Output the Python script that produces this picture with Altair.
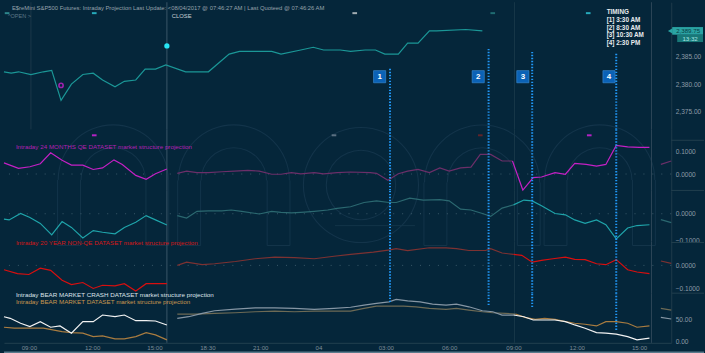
import altair as alt
import pandas as pd

BG = "#05263a"
FONT = "Liberation Sans"
W = 672
X_DOMAIN = [0, 64.3]
SPLIT = 49.0  # start of the "live" part of the projection (bar units)

# ---------------- data (x = 30-minute bar index) ----------------
price_x = [0.0, 0.7, 1.4, 2.6, 3.8, 4.6, 5.5, 6.5, 7.6, 8.6, 9.5, 10.7, 11.6, 12.7, 13.6, 14.6, 15.6,
           17.5, 19.7, 21.7, 22.7, 24.1, 25.8, 26.7, 28.6, 29.8, 30.8, 32.4, 33.4, 34.8, 35.8, 36.7,
           38.0, 38.9, 39.9, 41.0, 41.7, 44.5, 46.1]
price_v = [2382.25, 2382.0, 2382.25, 2381.75, 2382.25, 2382.5, 2377.0, 2380.0, 2381.75, 2382.0,
           2380.75, 2379.5, 2380.5, 2380.75, 2382.75, 2382.75, 2383.5, 2382.25, 2382.25, 2385.5,
           2386.0, 2386.0, 2386.0, 2385.5, 2386.25, 2386.75, 2386.25, 2386.25, 2386.0, 2386.25,
           2386.25, 2385.5, 2385.5, 2387.5, 2387.5, 2389.75, 2389.75, 2390.0, 2389.75]
last_price = [2389.75]
last_time = ["13:32"]

qe_x = [0.0, 1.4, 2.5, 3.5, 4.5, 5.6, 6.5, 7.6, 8.6, 9.5, 10.6, 11.4, 12.7, 13.7, 14.6, 15.7,
        16.7, 17.6, 18.6, 19.7, 21.0, 22.2, 23.5, 24.6, 25.8, 26.7, 27.7, 28.6, 29.9, 30.8, 32.1,
        33.4, 35.3, 35.9, 37.0, 38.0, 38.9, 39.9, 41.0, 42.0, 42.9, 44.0, 45.0, 45.9, 46.9, 48.0,
        49.0, 50.0, 51.0, 51.8, 53.1, 54.1, 55.0, 56.1, 57.1, 58.0, 59.0, 60.1, 61.2, 62.2, 63.3, 64.3]
qe_v = [0.049, 0.025, 0.032, 0.045, 0.093, 0.060, 0.039, 0.039, 0.020, 0.027, 0.062, 0.042, -0.006,
        -0.023, 0.001, 0.022,
        0.003, 0.013, 0.006, 0.006, 0.010, 0.013, 0.016, 0.013, -0.001, -0.001, 0.006, 0.001, 0.006,
        0.001, 0.006, 0.009, 0.006, 0.003, -0.027, 0.001, 0.013, 0.020, 0.006, 0.027, 0.013, 0.027,
        0.030, 0.086, 0.086, 0.057, 0.057, -0.070, -0.016, -0.013, 0.006, -0.001, 0.047, 0.042,
        0.035, 0.042, 0.125, 0.119, 0.117, 0.117, 0.042, 0.057]

teal_x = [0.0, 0.5, 1.6, 2.5, 3.5, 4.6, 5.6, 6.5, 7.6, 8.6, 9.5, 10.7, 11.6, 12.7, 13.7, 14.6, 15.7,
          16.7, 17.6, 18.6, 19.7, 21.0, 21.9, 22.9, 24.6, 25.8, 26.7, 27.7, 28.6, 29.9, 31.2, 32.1,
          33.4, 34.7, 35.9, 37.1, 37.8, 39.1, 40.4, 42.0, 42.9, 44.0, 45.0, 46.1, 46.9, 48.0, 49.1,
          50.1, 50.9, 51.8, 53.1, 54.1, 55.0, 56.0, 57.1, 58.0, 59.0, 60.1, 61.0, 62.2, 63.3, 64.3]
teal_v = [-0.020, -0.023, 0.001, -0.014, -0.036, -0.079, -0.029, -0.051, -0.090, -0.063, -0.069,
          -0.075, -0.051, -0.032, -0.007, -0.023, -0.042,
          -0.007, -0.016, 0.009, 0.011, 0.011, 0.014, 0.009, -0.001, 0.009, 0.005, 0.003, 0.005,
          0.009, 0.014, 0.020, 0.026, 0.042, 0.048, 0.042, 0.042, 0.058, 0.051, 0.053, 0.048, 0.017,
          0.014, 0.001, -0.010, 0.021, 0.033, 0.051, 0.048, 0.030, 0.001, -0.004, -0.023, -0.036,
          -0.023, -0.041, -0.094, -0.053, -0.044, -0.041, -0.022, -0.033]

red_x = [0.0, 1.3, 2.4, 3.5, 4.5, 5.6, 6.5, 7.6, 8.6, 9.5, 10.7, 11.6, 12.7, 13.7, 14.6, 15.7,
         16.7, 17.6, 19.1, 20.3, 22.3, 24.2, 26.1, 28.0, 29.9, 31.8, 33.4, 35.6, 37.2, 37.8, 38.9,
         41.0, 42.6, 43.6, 44.8, 46.4, 46.9, 48.0, 49.1, 49.9, 50.9, 51.8, 52.9, 54.1, 55.0, 56.0,
         57.1, 58.0, 59.0, 60.1, 61.0, 62.2, 63.3, 64.3]
red_v = [-0.019, -0.036, -0.040, -0.012, -0.022, -0.065, -0.084, -0.075, -0.101, -0.087, -0.090,
         -0.080, -0.112, -0.080, -0.080, -0.080,
         0.000, 0.014, 0.003, 0.007, 0.017, 0.029, 0.036, 0.034, 0.029, 0.040, 0.048, 0.058, 0.068,
         0.073, 0.065, 0.077, 0.077, 0.073, 0.065, 0.065, 0.073, 0.054, 0.048, 0.044, 0.014, 0.022,
         0.029, 0.036, 0.026, 0.025, 0.007, 0.003, 0.025, -0.019, -0.029, -0.036, 0.019, 0.009]

crash_x = [0.0, 0.6, 1.6, 2.5, 3.5, 4.5, 5.4, 6.5, 7.6, 8.6, 9.5, 10.7, 11.6, 12.7, 13.7, 14.6, 15.7,
           16.7, 17.8, 19.1, 20.3, 22.3, 24.2, 26.1, 28.0, 29.9, 31.8, 33.4, 34.7, 35.9, 37.1, 37.8,
           38.9, 40.1, 41.3, 42.6, 43.6, 44.8, 46.1, 47.1, 48.0, 49.1, 50.1, 51.0, 52.1, 53.1, 54.1,
           55.0, 56.0, 57.1, 58.0, 59.0, 60.1, 61.0, 62.2, 63.3, 64.3]
crash_v = [57.6, 53.9, 42.4, 34.6, 46.1, 33.2, 36.2, 19.4, 46.1, 46.1, 61.5, 57.6, 61.5, 48.4, 48.4,
           47.7, 38.5,
           53.9, 57.6, 65.4, 71.4, 75.3, 78.3, 78.3, 77.0, 74.7, 77.0, 79.5, 84.6, 88.5, 92.2, 97.7,
           94.5, 92.2, 86.9, 84.6, 86.9, 80.6, 71.4, 69.1, 61.5, 61.5, 57.6, 50.0, 50.0, 50.0, 46.1,
           38.5, 30.9, 20.7, 19.4, 17.0, 11.5, 3.9, 7.8, 56.2, 52.3]

bear_x = [0.0, 1.0, 1.9, 3.8, 5.6, 6.5, 7.6, 8.6, 9.5, 10.7, 11.6, 12.7, 13.7, 14.6, 15.7,
          16.7, 18.4, 20.3, 22.3, 24.2, 26.1, 28.0, 29.9, 31.8, 33.4, 34.7, 35.9, 37.1, 38.5, 39.7,
          41.0, 42.6, 43.6, 44.8, 46.1, 47.1, 48.3, 49.3, 50.2, 51.2, 52.1, 53.1, 54.1, 55.0, 56.0,
          57.1, 58.0, 59.0, 60.1, 61.0, 62.2, 63.3, 64.3]
bear_v = [33.2, 30.9, 30.9, 30.9, 23.0, 20.7, 19.4, 11.5, 13.1, 6.2, 6.2, 11.5, 20.7, 15.4, 3.9,
          63.8, 63.8, 65.4, 66.8, 69.1, 70.7, 69.1, 70.7, 70.7, 70.7, 77.0, 82.3, 82.3, 82.3, 80.6,
          77.0, 74.7, 77.0, 73.0, 69.1, 66.8, 65.4, 63.8, 56.2, 51.6, 53.9, 51.6, 46.1, 42.4, 40.1,
          36.2, 46.1, 46.1, 42.4, 33.2, 36.2, 77.0, 73.0]

# event markers
hi_dot_x, hi_dot_price = [15.7], [2387.0]
lo_ring_x, lo_ring_price = [5.5], [2379.75]
top_marks_x = [0.3, 8.7, 33.8, 47.1, 56.3]
top_marks_c = ["#3fb0b0", "#35e3f2", "#e6e6e6", "#2a8a8a", "#35e3f2"]
qe_marks_x = [8.7, 31.8, 45.9, 56.4]
qe_marks_c = ["#ff22ff", "#8090a0", "#8a2222", "#ff22ff"]

# timing events
timing_x = [37.2, 46.7, 50.9, 59.0]
timing_top = [2382.8, 2386.45, 2385.9, 2385.55]
timing_end = [91.5, 84.6, 79.9, 26.9]
box_x = [36.2, 45.7, 50.0, 58.3]
box_price = [2381.35, 2381.35, 2381.35, 2381.35]
box_labels = ["1", "2", "3", "4"]
timing_lines = ["TIMING", "[1] 3:30 AM", "[2] 8:30 AM", "[3] 10:30 AM", "[4] 2:30 PM"]

session_x = [15.7, 49.2, 62.4]
session_c = ["#3a5568", "#173749", "#2c4658"]

xtick_vals = [2.4, 8.5, 14.5, 19.6, 24.7, 30.3, 36.8, 42.9, 49.1, 55.2, 61.2]
xtick_labels = ["09:00", "12:00", "15:00", "18:30", "21:00", "04", "03:00", "06:00", "09:00",
                "12:00", "15:00"]

DOT_COLOR = "#2197f5"
DOT_DASH = [1.4, 1.6]

# faint background logo (arches), expressed on the QE panel's scales
LOGO_COLOR = "#13344a"
logo_arch_cx = [10.53, 22.15, 46.07, 57.41]
logo_arch_cy = [-0.026, -0.028, -0.037, -0.026]
logo_arch_ro = [56, 56.5, 58.5, 56]
logo_arch_ri = [33, 33.5, 35.5, 33]
logo_legs = [[5.17, 7.37, 13.68, 15.88], [16.74, 18.95, 25.36, 27.56],
             [40.47, 42.68, 49.47, 51.67], [52.05, 54.25, 60.57, 62.77]]
logo_bottom = -0.313
logo_ring_cx, logo_ring_cy, logo_ring_ro, logo_ring_ri = 34.4, -0.048, 58.5, 35.5
logo_bar = [31.9, 39.6, -0.226]

# ---------------- helpers ----------------
def series(name, xs, vs, bright, dim):
    after = [x for x in xs if SPLIT <= x <= 63]
    first_after = min(after)
    rows = []
    for x, v in zip(xs, vs):
        if x < 16.2:
            rows.append(dict(x=x, v=v, seg=name + "1", col=bright))
        elif x > 63:
            rows.append(dict(x=x, v=v, seg=name + "4", col=dim))
        else:
            if x <= first_after:
                rows.append(dict(x=x, v=v, seg=name + "2", col=dim))
            if x >= SPLIT:
                rows.append(dict(x=x, v=v, seg=name + "3", col=bright))
    return rows


def xq(field="x", axis=None):
    return alt.X(f"{field}:Q", scale=alt.Scale(domain=X_DOMAIN, nice=False, zero=False),
                 axis=axis, title=None)


def yaxis(vals, fmt):
    return alt.Axis(orient="right", values=vals, format=fmt, labelFont=FONT, labelFontSize=6.6,
                    labelColor="#8c9aa6", ticks=False, domain=True, domainColor="#1f3a4b",
                    grid=False, labelPadding=4, labelOverlap=False)


def yq(field, dom, axis):
    return alt.Y(f"{field}:Q", scale=alt.Scale(domain=dom, nice=False, zero=False),
                 axis=axis, title=None)


def text_at(txt, px, py, color, size, weight="normal", align="left"):
    return alt.Chart(pd.DataFrame({"t": [txt]})).mark_text(
        align=align, baseline="middle", font=FONT, fontSize=size, fontWeight=weight, color=color
    ).encode(text="t:N", x=alt.value(px), y=alt.value(py))


def axis_sep(py):
    return alt.Chart(pd.DataFrame({"k": [0]})).mark_rule(color="#22404f", strokeWidth=1).encode(
        x=alt.value(672), x2=alt.value(705), y=alt.value(py))


def session_rules(xaxis=None):
    df = pd.DataFrame({"x": session_x, "c": session_c})
    return alt.Chart(df).mark_rule(strokeWidth=1).encode(
        x=xq("x", xaxis), color=alt.Color("c:N", scale=None))


def zero_grid(dom, ax, level):
    return alt.Chart(pd.DataFrame({"v": [level]})).mark_rule(
        color="#3a5a6a", strokeDash=[1, 8], strokeWidth=1).encode(y=yq("v", dom, ax))


def timing_full(xaxis=None):
    return alt.Chart(pd.DataFrame({"x": timing_x})).mark_rule(
        color=DOT_COLOR, strokeWidth=2, strokeDash=DOT_DASH).encode(x=xq("x", xaxis))


def lines(df, dom, ax, xaxis=None, width=1.2):
    return alt.Chart(df).mark_line(strokeWidth=width).encode(
        x=xq("x", xaxis), y=yq("v", dom, ax),
        color=alt.Color("col:N", scale=None), detail="seg:N")


def logo_layers(dom, ax):
    arch_rows = []
    for cx, cy, ro, ri in zip(logo_arch_cx, logo_arch_cy, logo_arch_ro, logo_arch_ri):
        for r in (ro, ri):
            arch_rows.append(dict(x=cx, v=cy, r=r, r2=r - 1.1))
    ring_rows = [dict(x=logo_ring_cx, v=logo_ring_cy, r=r, r2=r - 1.1)
                 for r in (logo_ring_ro, logo_ring_ri)]
    # upper half circles: from 9 o'clock clockwise to 3 o'clock
    arches = alt.Chart(pd.DataFrame(arch_rows)).mark_arc(
        color=LOGO_COLOR, theta=4.712389, theta2=7.853982).encode(
        x=xq(), y=yq("v", dom, ax),
        radius=alt.Radius("r:Q", scale=None), radius2="r2:Q")
    rings = alt.Chart(pd.DataFrame(ring_rows)).mark_arc(
        color=LOGO_COLOR, theta=0, theta2=6.283185).encode(
        x=xq(), y=yq("v", dom, ax),
        radius=alt.Radius("r:Q", scale=None), radius2="r2:Q")
    legs, caps = [], []
    for cy, xs in zip(logo_arch_cy, logo_legs):
        for x in xs:
            legs.append(dict(x=x, v=cy, v2=logo_bottom))
        caps.append(dict(x=xs[0], x2=xs[1], v=logo_bottom))
        caps.append(dict(x=xs[2], x2=xs[3], v=logo_bottom))
    caps.append(dict(x=logo_bar[0], x2=logo_bar[1], v=logo_bar[2]))
    leg_chart = alt.Chart(pd.DataFrame(legs)).mark_rule(color=LOGO_COLOR, strokeWidth=1).encode(
        x=xq(), y=yq("v", dom, ax), y2="v2:Q")
    cap_chart = alt.Chart(pd.DataFrame(caps)).mark_rule(color=LOGO_COLOR, strokeWidth=1).encode(
        x=xq(), x2="x2:Q", y=yq("v", dom, ax))
    return [arches, rings, leg_chart, cap_chart]


# ---------------- panel 1 : price ----------------
H1, D1 = 128, [2371.7, 2395.0]
A1 = yaxis([2375, 2380, 2385], ",.2f")
price_df = pd.DataFrame({"x": price_x, "v": price_v})

p1_layers = [
    alt.Chart(pd.DataFrame({"x": [2.6]})).mark_rule(color="#1b384a").encode(x=xq()),
    session_rules(),
    alt.Chart(pd.DataFrame({"x": timing_x, "v": timing_top})).mark_rule(
        color=DOT_COLOR, strokeWidth=2, strokeDash=DOT_DASH).encode(
        x=xq(), y=yq("v", D1, A1), y2=alt.value(H1)),
    alt.Chart(price_df).mark_line(color="#1b9797", strokeWidth=1.2).encode(
        x=xq(), y=yq("v", D1, A1)),
    alt.Chart(pd.DataFrame({"x": hi_dot_x, "v": hi_dot_price})).mark_circle(
        size=28, color="#27e6f5", opacity=1).encode(x=xq(), y=yq("v", D1, A1)),
    alt.Chart(pd.DataFrame({"x": lo_ring_x, "v": lo_ring_price})).mark_point(
        size=18, color="#e020e0", strokeWidth=1.6, filled=False).encode(x=xq(), y=yq("v", D1, A1)),
    alt.Chart(pd.DataFrame({"x": top_marks_x, "v": [2393.0] * 5, "c": top_marks_c})).mark_point(
        shape="stroke", size=22, strokeWidth=2).encode(
        x=xq(), y=yq("v", D1, A1), color=alt.Color("c:N", scale=None)),
    alt.Chart(pd.DataFrame({"x": box_x, "v": box_price})).mark_square(
        size=150, color="#0b62b6", stroke="#3f8fd6", strokeWidth=0.6, opacity=1).encode(
        x=xq(), y=yq("v", D1, A1)),
    alt.Chart(pd.DataFrame({"x": box_x, "v": box_price, "t": box_labels})).mark_text(
        font=FONT, fontSize=8, fontWeight="bold", color="#ffffff", baseline="middle").encode(
        x=xq(), y=yq("v", D1, A1), text="t:N"),
    # last price tag on the axis
    alt.Chart(pd.DataFrame({"lo": [last_price[0] - 0.7], "hi": [last_price[0] + 0.7]})).mark_rect(
        color="#2aa3a3").encode(x=alt.value(673), x2=alt.value(704), y=yq("lo", D1, A1), y2="hi:Q"),
    alt.Chart(pd.DataFrame({"v": last_price})).mark_point(
        shape="triangle-left", size=30, filled=True, color="#2aa3a3", opacity=1).encode(
        x=alt.value(671), y=yq("v", D1, A1)),
    alt.Chart(pd.DataFrame({"lo": [last_price[0] - 2.05], "hi": [last_price[0] - 0.75]})).mark_rect(
        color="#187878").encode(x=alt.value(678), x2=alt.value(704), y=yq("lo", D1, A1), y2="hi:Q"),
    alt.Chart(pd.DataFrame({"v": last_price, "t": ["{:,.2f}".format(last_price[0])]})).mark_text(
        font=FONT, fontSize=6.2, color="#083e44", baseline="middle", align="center").encode(
        x=alt.value(689), y=yq("v", D1, A1), text="t:N"),
    alt.Chart(pd.DataFrame({"v": [last_price[0] - 1.4], "t": last_time})).mark_text(
        font=FONT, fontSize=6.2, color="#a6e6e6", baseline="middle", align="center").encode(
        x=alt.value(691), y=yq("v", D1, A1), text="t:N"),
    text_at("E$reMini S&P500 Futures: Intraday Projection Last Update:  <08/04/2017 @ 07:46:27 AM "
            "| Last Quoteed @ 07:46:26 AM", 8, 6, "#96a2ab", 5.9),
    text_at("^OPEN >", 4, 13.5, "#5d7888", 5.6),
    text_at("CLOSE", 169, 13.5, "#c8d0d6", 5.9),
    alt.Chart(pd.DataFrame({"t": [timing_lines]})).mark_text(
        align="left", baseline="top", font=FONT, fontSize=6.4, fontWeight="bold",
        color="#e8ecef", lineHeight=7.9).encode(text="t", x=alt.value(607), y=alt.value(6.8)),
]
p1 = alt.layer(*p1_layers).properties(width=W, height=H1)

# ---------------- panel 2 : 24 months QE ----------------
H2, D2 = 62, [-0.0739, 0.1957]
A2 = yaxis([0, 0.1], ".4f")
qe_df = pd.DataFrame(series("qe", qe_x, qe_v, "#c520c5", "#6c2f69"))
p2 = alt.layer(
    *logo_layers(D2, A2),
    session_rules(),
    zero_grid(D2, A2, 0),
    lines(qe_df, D2, A2),
    timing_full(),
    alt.Chart(pd.DataFrame({"x": qe_marks_x, "v": [0.1696] * 4, "c": qe_marks_c})).mark_point(
        shape="stroke", size=22, strokeWidth=2).encode(
        x=xq(), y=yq("v", D2, A2), color=alt.Color("c:N", scale=None)),
    text_at("Intraday 24 MONTHS QE DATASET market structure projection", 12, 18, "#b41fb4", 6.3),
    axis_sep(11),
    axis_sep(61.5),
).properties(width=W, height=H2)

# ---------------- panel 3 : teal projection ----------------
H3, D3 = 51, [-0.1037, 0.0852]
A3 = yaxis([-0.1, 0], ".4f")
teal_df = pd.DataFrame(series("tl", teal_x, teal_v, "#1fa4aa", "#2b6870"))
p3 = alt.layer(
    session_rules(),
    zero_grid(D3, A3, 0),
    lines(teal_df, D3, A3),
    timing_full(),
).properties(width=W, height=H3)

# ---------------- panel 4 : 20 year non-QE ----------------
H4, D4 = 52, [-0.1217, 0.1043]
A4 = yaxis([-0.1, 0], ".4f")
red_df = pd.DataFrame(series("rd", red_x, red_v, "#d80f0f", "#7d3232"))
p4 = alt.layer(
    session_rules(),
    zero_grid(D4, A4, 0),
    lines(red_df, D4, A4),
    timing_full(),
    text_at("Intraday 20 YEAR NON-QE DATASET market structure  projection", 12, 1.5, "#d41818", 6.3),
    axis_sep(1),
    axis_sep(52),
).properties(width=W, height=H4)

# ---------------- panel 5 : bear market ----------------
H5, D5 = 50, [-3.0, 112.2]
A5 = yaxis([0, 50], ".2f")
cond = " : ".join(f"abs(datum.value - {v}) < 0.01 ? '{l}'" for v, l in zip(xtick_vals, xtick_labels)) + " : ''"
XA = alt.Axis(values=xtick_vals, labelExpr=cond, labelFont=FONT, labelFontSize=6.2,
              labelColor="#7d8d99", ticks=False, domain=True, domainColor="#22404f", grid=False,
              labelPadding=2, labelOverlap=False, labelFlush=False)
bear_df = pd.DataFrame(series("br", bear_x, bear_v, "#a97c40", "#6d6a55"))
crash_df = pd.DataFrame(series("cr", crash_x, crash_v, "#f2f2f2", "#8696a4"))
p5 = alt.layer(
    session_rules(XA),
    lines(bear_df, D5, A5, XA),
    lines(crash_df, D5, A5, XA),
    alt.Chart(pd.DataFrame({"x": timing_x, "v": timing_end})).mark_rule(
        color=DOT_COLOR, strokeWidth=2, strokeDash=DOT_DASH).encode(
        x=xq("x", XA), y=yq("v", D5, A5), y2=alt.value(0)),
    text_at("Intraday BEAR MARKET CRASH  DATASET  market structure projection", 12, 1.5, "#dde3ea", 6.3),
    text_at("Intraday BEAR MARKET DATASET  market structure projection", 12, 9, "#c9964f", 6.3),
    alt.Chart(pd.DataFrame({"k": [0]})).mark_rule(color="#5a7a8c", strokeWidth=1.5).encode(
        x=alt.value(0), x2=alt.value(705), y=alt.value(H5 + 9.6)),
).properties(width=W, height=H5)

chart = alt.vconcat(p1, p2, p3, p4, p5, spacing=0, bounds="flush").properties(
    background=BG, padding=0
).configure_view(stroke=None)

chart.save("out.html", embed_options={"renderer": "svg", "actions": False})
